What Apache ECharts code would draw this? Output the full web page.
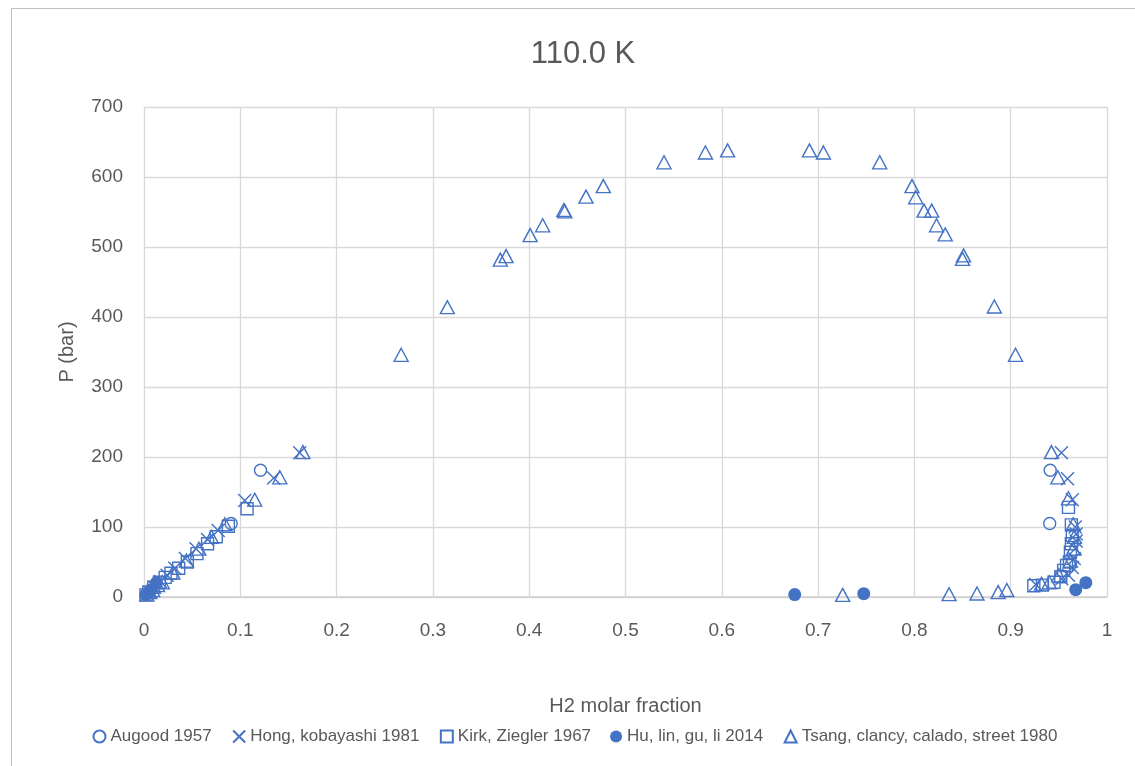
<!DOCTYPE html>
<html>
<head>
<meta charset="utf-8">
<script src="https://cdn.jsdelivr.net/npm/echarts@6/dist/echarts.min.js"></script>
<style>
html,body{margin:0;padding:0;background:#fff;}
#c{width:1135px;height:766px;}
</style>
</head>
<body>
<div id="c"></div>
<script>
// ---- data ----
const titleText = "110.0 K";
const xTitle = "H2 molar fraction";
const yTitle = "P (bar)";
const seriesNames = ["Augood 1957", "Hong, kobayashi 1981", "Kirk, Ziegler 1967", "Hu, lin, gu, li 2014", "Tsang, clancy, calado, street 1980"];

const augoodX = [0.0905, 0.121, 0.9405, 0.941];
const augoodP = [105, 181, 105, 181];

const hongX = [0.006, 0.011, 0.017, 0.024, 0.032, 0.043, 0.054, 0.066, 0.077, 0.1046, 0.1347, 0.1617,
               0.926, 0.953, 0.960, 0.964, 0.966, 0.967, 0.968, 0.968, 0.967, 0.964, 0.959, 0.9527];
const hongP = [7, 14, 22, 31, 41, 55, 69, 82, 95, 138, 170, 206,
               18, 26, 31, 42, 55, 69, 80, 90, 100, 139, 169, 206];

const kirkX = [0.002, 0.005, 0.010, 0.016, 0.022, 0.028, 0.036, 0.045, 0.055, 0.066, 0.075, 0.0876, 0.107,
               0.924, 0.933, 0.945, 0.952, 0.955, 0.958, 0.961, 0.962, 0.963, 0.964, 0.963, 0.960];
const kirkP = [3, 7, 14, 21, 28, 34, 41, 50, 62, 76, 86, 101, 126,
               16, 17, 21, 29, 38, 45, 50, 64, 76, 88, 103, 128];

const huX = [0.002, 0.003, 0.007, 0.013, 0.6757, 0.7474, 0.9675, 0.978];
const huP = [3.4, 4.8, 10.5, 20.5, 3.4, 4.8, 10.5, 20.5];

const tsangX = [0.003, 0.006, 0.009, 0.014, 0.019, 0.030, 0.044, 0.057, 0.070, 0.084, 0.115, 0.141, 0.165,
                0.267, 0.315, 0.370, 0.376, 0.401, 0.414, 0.436, 0.437, 0.459, 0.477, 0.540, 0.583, 0.606,
                0.691, 0.7055, 0.764, 0.7975, 0.8014, 0.810, 0.818, 0.823, 0.832, 0.850, 0.851, 0.883, 0.905,
                0.9423, 0.949, 0.960, 0.965, 0.966, 0.965, 0.962, 0.950, 0.940, 0.932, 0.896, 0.887, 0.865, 0.836, 0.7255];
const tsangP = [3.5, 7, 10, 17, 21, 35, 52, 69, 86, 104, 139, 171, 207,
                346, 414, 482, 487, 517, 531, 553, 551, 572, 587, 621, 635, 638,
                638, 635, 621, 587, 571, 552, 552, 531, 518, 483, 488, 415, 346,
                207, 171, 141, 104, 86, 69, 52, 31, 21, 19, 10, 7, 5, 4, 3];

// ---- chart ----
const BLUE = "#4472C4";
const TXT = "#595959";
const FONT = "Liberation Sans";
function pairs(xs, ys){ return xs.map((x,i)=>[x, ys[i]]); }

const hollow = {color: "none", borderColor: BLUE, borderWidth: 1.4, opacity: 1};
const chart = echarts.init(document.getElementById("c"), null, {renderer: "canvas"});
chart.setOption({
  animation: false,
  backgroundColor: "#fff",
  textStyle: {fontFamily: FONT},
  title: {
    text: titleText, left: 578, top: 34, textAlign: "center",
    textStyle: {fontFamily: FONT, fontSize: 31, fontWeight: "normal", color: TXT}
  },
  grid: {left: 144, right: 28, top: 107, bottom: 169, containLabel: false},
  legend: {
    data: seriesNames, left: 86, top: 723, itemGap: 19, itemWidth: 12, itemHeight: 12,
    textStyle: {fontFamily: FONT, fontSize: 17, color: TXT}
  },
  xAxis: {
    type: "value", min: 0, max: 1, interval: 0.1,
    name: xTitle, nameLocation: "middle", nameGap: 99,
    nameTextStyle: {fontFamily: FONT, fontSize: 20, color: TXT},
    axisLine: {show: true, lineStyle: {color: "#D0D0D0", width: 1.5}},
    axisTick: {show: false},
    axisLabel: {fontFamily: FONT, fontSize: 19, color: TXT, margin: 24},
    splitLine: {show: true, lineStyle: {color: "#D9D9D9", width: 1.3}}
  },
  yAxis: {
    type: "value", min: 0, max: 700, interval: 100,
    name: yTitle, nameLocation: "middle", nameGap: 67, nameRotate: 90,
    nameTextStyle: {fontFamily: FONT, fontSize: 20, color: TXT},
    axisLine: {show: false},
    axisTick: {show: false},
    axisLabel: {fontFamily: FONT, fontSize: 19, color: TXT, margin: 21},
    splitLine: {show: true, lineStyle: {color: "#D9D9D9", width: 1.3}}
  },
  graphic: [{
    type: "rect", silent: true, z: -10,
    shape: {x: 11.5, y: 8.5, width: 1200, height: 800},
    style: {fill: "none", stroke: "#BFBFBF", lineWidth: 1}
  }],
  series: [
    {name: seriesNames[0], type: "scatter", symbol: "circle", symbolSize: 12,
     itemStyle: hollow, data: pairs(augoodX, augoodP)},
    {name: seriesNames[1], type: "scatter", symbol: "path://M0,0L10,10M10,0L0,10", symbolSize: 13,
     itemStyle: hollow, data: pairs(hongX, hongP)},
    {name: seriesNames[2], type: "scatter", symbol: "rect", symbolSize: 12,
     itemStyle: hollow, data: pairs(kirkX, kirkP)},
    {name: seriesNames[3], type: "scatter", symbol: "circle", symbolSize: 13,
     itemStyle: {color: BLUE, opacity: 1}, data: pairs(huX, huP)},
    {name: seriesNames[4], type: "scatter", symbol: "triangle", symbolSize: [14, 13],
     itemStyle: hollow, data: pairs(tsangX, tsangP)}
  ]
});
</script>
</body>
</html>
